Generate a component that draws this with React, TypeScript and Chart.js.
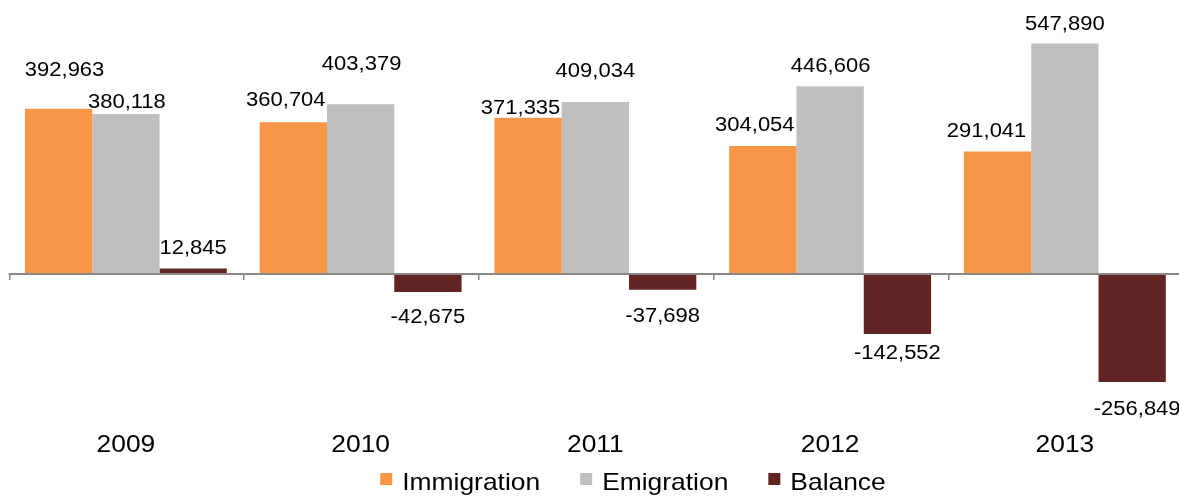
import React, { useEffect, useRef } from "react";
import { Chart, registerables } from "chart.js";

Chart.register(...registerables);

// ---- data ----
const categories = ["2009", "2010", "2011", "2012", "2013"];
const immigration = [392963, 360704, 371335, 304054, 291041];
const emigration = [380118, 403379, 409034, 446606, 547890];
const balance = [12845, -42675, -37698, -142552, -256849];
const seriesNames = ["Immigration", "Emigration", "Balance"];

// ---- styles ----
const colors = ["#F79646", "#BFBFBF", "#632523"];
const FONT = '"Liberation Sans", Arial, Helvetica, sans-serif';
const STRETCH = 1.1;
const VALUE_SIZE = 20;
const AXIS_SIZE = 24;
// label nudges (px): distance of label centre from the bar end, horizontal shift
const labelGap = [
  [40, 23, 11, 22.5, 21.5],
  [13, 41.5, 31.7, 21, 21],
  [22, 24, 25, 18, 25.5],
];
const labelShift = [
  [6, -7.5, -7.5, -8, -11],
  [1, 1, 0, 0.5, 0],
  [0, 0, 0, 0, 5],
];

const fmt = (v: number) => v.toLocaleString("en-US");

function stretchedText(
  ctx: CanvasRenderingContext2D,
  text: string,
  x: number,
  y: number,
  size: number,
  align: CanvasTextAlign = "center"
) {
  ctx.save();
  ctx.font = `${size}px ${FONT}`;
  ctx.translate(x, y);
  ctx.scale(STRETCH, 1);
  ctx.textAlign = align;
  ctx.textBaseline = "alphabetic";
  ctx.fillStyle = "#000000";
  ctx.fillText(text, 0, 0);
  ctx.restore();
}

const decorPlugin = {
  id: "decor",
  afterDatasetsDraw(chart: any) {
    const ctx: CanvasRenderingContext2D = chart.ctx;
    const xs = chart.scales.x;
    const ys = chart.scales.y;
    const y0 = ys.getPixelForValue(0);
    const n = categories.length;
    const centers = categories.map((_, i) => xs.getPixelForValue(i));
    const step = n > 1 ? centers[1] - centers[0] : chart.chartArea.width;

    // zero axis line
    ctx.save();
    ctx.strokeStyle = "#898989";
    ctx.lineWidth = 2;
    ctx.beginPath();
    ctx.moveTo(centers[0] - step / 2, y0);
    ctx.lineTo(chart.width, y0);
    ctx.stroke();
    // tick marks at category boundaries
    ctx.lineWidth = 1.5;
    for (let i = 0; i < n; i++) {
      const bx = Math.round(centers[i] - step / 2) + 0.75;
      ctx.beginPath();
      ctx.moveTo(bx, y0);
      ctx.lineTo(bx, y0 + 6);
      ctx.stroke();
    }
    ctx.restore();

    // category labels
    categories.forEach((c, i) => {
      stretchedText(ctx, c, centers[i], 451.5, AXIS_SIZE);
    });

    // value labels
    const capHalf = (VALUE_SIZE * 0.716) / 2;
    chart.data.datasets.forEach((ds: any, d: number) => {
      const meta = chart.getDatasetMeta(d);
      meta.data.forEach((el: any, i: number) => {
        const v = ds.data[i] as number;
        const gap = labelGap[d][i];
        const cy = v >= 0 ? el.y - gap : el.y + gap;
        stretchedText(ctx, fmt(v), el.x + labelShift[d][i], cy + capHalf, VALUE_SIZE);
      });
    });

    // legend
    ctx.save();
    ctx.font = `${AXIS_SIZE}px ${FONT}`;
    const box = 12;
    const boxGap = 10;
    const itemGap = 40;
    const widths = seriesNames.map((s) => ctx.measureText(s).width * STRETCH);
    const total =
      widths.reduce((a, b) => a + b, 0) + seriesNames.length * (box + boxGap) + itemGap * (seriesNames.length - 1);
    const legendCenter = 633;
    let lx = legendCenter - total / 2;
    ctx.restore();
    seriesNames.forEach((s, i) => {
      ctx.save();
      ctx.fillStyle = colors[i];
      ctx.fillRect(lx, 473, box, box);
      ctx.restore();
      stretchedText(ctx, s, lx + box + boxGap, 490, AXIS_SIZE, "left");
      lx += box + boxGap + widths[i] + itemGap;
    });
  },
};

export default function App() {
  const ref = useRef<HTMLCanvasElement | null>(null);

  useEffect(() => {
    if (!ref.current) return;
    const chart = new Chart(ref.current, {
      type: "bar",
      data: {
        labels: categories,
        datasets: [
          { label: seriesNames[0], data: immigration, backgroundColor: colors[0] },
          { label: seriesNames[1], data: emigration, backgroundColor: colors[1] },
          { label: seriesNames[2], data: balance, backgroundColor: colors[2] },
        ],
      },
      options: {
        responsive: false,
        animation: false,
        devicePixelRatio: 1,
        layout: { padding: { left: 8.5, right: 7.75, top: 21.6, bottom: 95.8 } },
        datasets: {
          bar: { categoryPercentage: 0.86, barPercentage: 1.0, borderWidth: 0 },
        },
        scales: {
          x: { display: false, offset: true, grid: { display: false } },
          y: { display: false, min: -300000, max: 600000, grid: { display: false } },
        },
        plugins: {
          legend: { display: false },
          tooltip: { enabled: false },
          title: { display: false },
        },
      },
      plugins: [decorPlugin],
    });
    return () => chart.destroy();
  }, []);

  return (
    <div
      style={{
        position: "fixed",
        left: 0,
        top: 0,
        width: 1179,
        height: 496,
        overflow: "hidden",
        background: "#ffffff",
      }}
    >
      <canvas
        ref={ref}
        width={1190}
        height={496}
        style={{ display: "block", width: 1190, height: 496 }}
      />
    </div>
  );
}
